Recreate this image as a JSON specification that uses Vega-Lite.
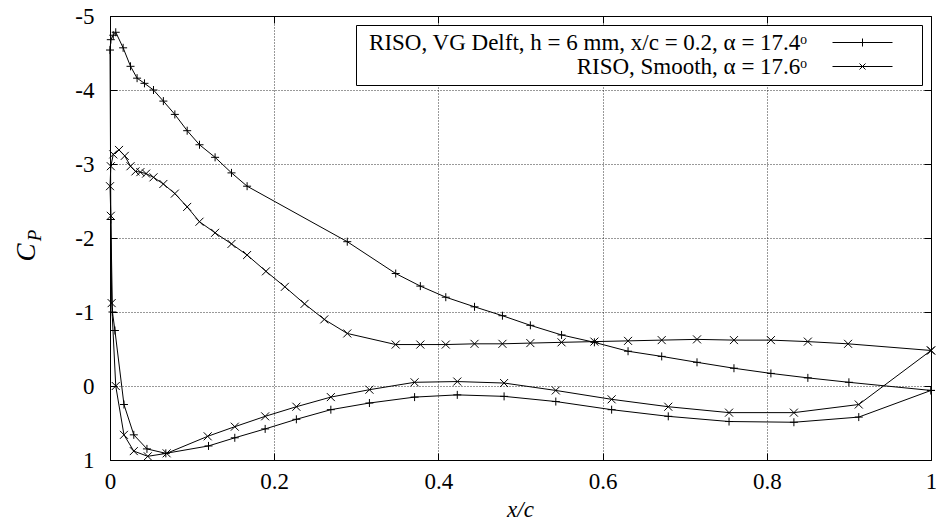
{
  "$schema": "https://vega.github.io/schema/vega-lite/v6.json",
  "width": 821,
  "height": 444,
  "autosize": "none",
  "padding": {"left": 110, "top": 16, "right": 5, "bottom": 69},
  "background": "white",
  "config": {
    "view": {"stroke": "black", "strokeWidth": 1},
    "font": "Liberation Serif",
    "axis": {
      "labelFont": "Liberation Serif",
      "labelFontSize": 23,
      "labelColor": "black",
      "labelFlush": false,
      "labelOverlap": false,
      "domain": false,
      "tickColor": "black",
      "tickSize": -7,
      "tickWidth": 1,
      "gridColor": "black",
      "gridDash": [1, 2],
      "gridOpacity": 0.8,
      "gridWidth": 1,
      "titleFont": "Liberation Serif",
      "titleColor": "black",
      "titleFontWeight": "normal",
      "titleFontStyle": "italic"
    }
  },
  "datasets": {
    "cp": [
      {"s":"vg","i":0,"x":1.0,"cp":0.06},{"s":"vg","i":1,"x":0.9,"cp":-0.05},{"s":"vg","i":2,"x":0.85,"cp":-0.11},{"s":"vg","i":3,"x":0.805,"cp":-0.17},{"s":"vg","i":4,"x":0.76,"cp":-0.24},{"s":"vg","i":5,"x":0.715,"cp":-0.32},{"s":"vg","i":6,"x":0.672,"cp":-0.4},{"s":"vg","i":7,"x":0.631,"cp":-0.47},{"s":"vg","i":8,"x":0.59,"cp":-0.59},{"s":"vg","i":9,"x":0.55,"cp":-0.69},{"s":"vg","i":10,"x":0.512,"cp":-0.82},{"s":"vg","i":11,"x":0.478,"cp":-0.95},{"s":"vg","i":12,"x":0.444,"cp":-1.07},{"s":"vg","i":13,"x":0.409,"cp":-1.2},{"s":"vg","i":14,"x":0.378,"cp":-1.35},{"s":"vg","i":15,"x":0.348,"cp":-1.52},{"s":"vg","i":16,"x":0.289,"cp":-1.95},{"s":"vg","i":17,"x":0.167,"cp":-2.7},{"s":"vg","i":18,"x":0.148,"cp":-2.88},{"s":"vg","i":19,"x":0.128,"cp":-3.09},{"s":"vg","i":20,"x":0.109,"cp":-3.26},{"s":"vg","i":21,"x":0.094,"cp":-3.45},{"s":"vg","i":22,"x":0.079,"cp":-3.67},{"s":"vg","i":23,"x":0.065,"cp":-3.85},{"s":"vg","i":24,"x":0.053,"cp":-4.0},{"s":"vg","i":25,"x":0.042,"cp":-4.09},{"s":"vg","i":26,"x":0.033,"cp":-4.16},{"s":"vg","i":27,"x":0.025,"cp":-4.32},{"s":"vg","i":28,"x":0.016,"cp":-4.57},{"s":"vg","i":29,"x":0.007,"cp":-4.78},{"s":"vg","i":30,"x":0.004,"cp":-4.74},{"s":"vg","i":31,"x":0.001,"cp":-4.68},{"s":"vg","i":32,"x":0.0,"cp":-4.54},{"s":"vg","i":33,"x":0.001,"cp":-2.25},{"s":"vg","i":34,"x":0.003,"cp":-1.0},{"s":"vg","i":35,"x":0.006,"cp":-0.75},{"s":"vg","i":36,"x":0.017,"cp":0.25},{"s":"vg","i":37,"x":0.029,"cp":0.66},{"s":"vg","i":38,"x":0.045,"cp":0.85},{"s":"vg","i":39,"x":0.068,"cp":0.91},{"s":"vg","i":40,"x":0.12,"cp":0.81},{"s":"vg","i":41,"x":0.152,"cp":0.7},{"s":"vg","i":42,"x":0.189,"cp":0.58},{"s":"vg","i":43,"x":0.227,"cp":0.45},{"s":"vg","i":44,"x":0.269,"cp":0.32},{"s":"vg","i":45,"x":0.316,"cp":0.23},{"s":"vg","i":46,"x":0.371,"cp":0.15},{"s":"vg","i":47,"x":0.423,"cp":0.12},{"s":"vg","i":48,"x":0.48,"cp":0.14},{"s":"vg","i":49,"x":0.543,"cp":0.21},{"s":"vg","i":50,"x":0.611,"cp":0.32},{"s":"vg","i":51,"x":0.68,"cp":0.41},{"s":"vg","i":52,"x":0.754,"cp":0.48},{"s":"vg","i":53,"x":0.833,"cp":0.49},{"s":"vg","i":54,"x":0.912,"cp":0.42},{"s":"vg","i":55,"x":1.0,"cp":0.06},
      {"s":"smooth","i":0,"x":1.0,"cp":-0.48},{"s":"smooth","i":1,"x":0.899,"cp":-0.57},{"s":"smooth","i":2,"x":0.85,"cp":-0.6},{"s":"smooth","i":3,"x":0.805,"cp":-0.62},{"s":"smooth","i":4,"x":0.76,"cp":-0.62},{"s":"smooth","i":5,"x":0.715,"cp":-0.63},{"s":"smooth","i":6,"x":0.672,"cp":-0.62},{"s":"smooth","i":7,"x":0.631,"cp":-0.61},{"s":"smooth","i":8,"x":0.59,"cp":-0.6},{"s":"smooth","i":9,"x":0.55,"cp":-0.59},{"s":"smooth","i":10,"x":0.512,"cp":-0.58},{"s":"smooth","i":11,"x":0.478,"cp":-0.57},{"s":"smooth","i":12,"x":0.444,"cp":-0.57},{"s":"smooth","i":13,"x":0.409,"cp":-0.56},{"s":"smooth","i":14,"x":0.378,"cp":-0.56},{"s":"smooth","i":15,"x":0.348,"cp":-0.56},{"s":"smooth","i":16,"x":0.289,"cp":-0.71},{"s":"smooth","i":17,"x":0.261,"cp":-0.9},{"s":"smooth","i":18,"x":0.237,"cp":-1.11},{"s":"smooth","i":19,"x":0.213,"cp":-1.34},{"s":"smooth","i":20,"x":0.19,"cp":-1.55},{"s":"smooth","i":21,"x":0.167,"cp":-1.77},{"s":"smooth","i":22,"x":0.148,"cp":-1.92},{"s":"smooth","i":23,"x":0.128,"cp":-2.07},{"s":"smooth","i":24,"x":0.109,"cp":-2.22},{"s":"smooth","i":25,"x":0.094,"cp":-2.42},{"s":"smooth","i":26,"x":0.079,"cp":-2.6},{"s":"smooth","i":27,"x":0.065,"cp":-2.73},{"s":"smooth","i":28,"x":0.053,"cp":-2.82},{"s":"smooth","i":29,"x":0.044,"cp":-2.87},{"s":"smooth","i":30,"x":0.037,"cp":-2.89},{"s":"smooth","i":31,"x":0.031,"cp":-2.9},{"s":"smooth","i":32,"x":0.025,"cp":-2.97},{"s":"smooth","i":33,"x":0.018,"cp":-3.11},{"s":"smooth","i":34,"x":0.011,"cp":-3.19},{"s":"smooth","i":35,"x":0.004,"cp":-3.13},{"s":"smooth","i":36,"x":0.001,"cp":-2.97},{"s":"smooth","i":37,"x":0.0,"cp":-2.7},{"s":"smooth","i":38,"x":0.001,"cp":-2.3},{"s":"smooth","i":39,"x":0.002,"cp":-1.12},{"s":"smooth","i":40,"x":0.007,"cp":0.0},{"s":"smooth","i":41,"x":0.017,"cp":0.66},{"s":"smooth","i":42,"x":0.029,"cp":0.88},{"s":"smooth","i":43,"x":0.046,"cp":0.95},{"s":"smooth","i":44,"x":0.069,"cp":0.91},{"s":"smooth","i":45,"x":0.119,"cp":0.68},{"s":"smooth","i":46,"x":0.152,"cp":0.55},{"s":"smooth","i":47,"x":0.189,"cp":0.41},{"s":"smooth","i":48,"x":0.227,"cp":0.28},{"s":"smooth","i":49,"x":0.269,"cp":0.15},{"s":"smooth","i":50,"x":0.316,"cp":0.05},{"s":"smooth","i":51,"x":0.371,"cp":-0.05},{"s":"smooth","i":52,"x":0.423,"cp":-0.06},{"s":"smooth","i":53,"x":0.48,"cp":-0.04},{"s":"smooth","i":54,"x":0.543,"cp":0.06},{"s":"smooth","i":55,"x":0.611,"cp":0.18},{"s":"smooth","i":56,"x":0.68,"cp":0.28},{"s":"smooth","i":57,"x":0.754,"cp":0.36},{"s":"smooth","i":58,"x":0.833,"cp":0.36},{"s":"smooth","i":59,"x":0.912,"cp":0.25},{"s":"smooth","i":60,"x":1.0,"cp":-0.48}
    ]
  },
  "data": {"name": "cp"},
  "layer": [
    {
      "mark": {"type": "line", "color": "black", "strokeWidth": 1},
      "encoding": {
        "x": {"field": "x", "type": "quantitative", "scale": {"domain": [0, 1], "nice": false, "zero": false},
          "axis": {"orient": "bottom", "values": [0, 0.2, 0.4, 0.6, 0.8, 1], "format": ".1~f", "grid": true, "labelPadding": 17,
            "title": "x/c", "titleFontSize": 23, "titleX": 410, "titleY": 49, "titleBaseline": "middle", "titleAlign": "center"}},
        "y": {"field": "cp", "type": "quantitative", "scale": {"domain": [-5, 1], "reverse": true, "nice": false, "zero": false},
          "axis": {"orient": "left", "values": [-5, -4, -3, -2, -1, 0, 1], "labelExpr": "'' + datum.value", "grid": true, "labelPadding": 23,
            "title": "C", "titleFontSize": 27, "titleAngle": -90, "titleX": -84, "titleY": 236, "titleBaseline": "middle", "titleAlign": "center"}},
        "detail": {"field": "s"},
        "order": {"field": "i", "type": "quantitative"}
      }
    },
    {
      "mark": {"type": "point", "filled": false, "stroke": "black", "strokeWidth": 1, "size": 64, "opacity": 1},
      "encoding": {
        "x": {"field": "x", "type": "quantitative", "axis": null},
        "y": {"field": "cp", "type": "quantitative", "axis": null},
        "shape": {"field": "s", "type": "nominal",
          "scale": {"domain": ["vg", "smooth"], "range": ["M-1,0H1M0,-1V1", "M-1,-1L1,1M-1,1L1,-1"]},
          "legend": null
        }
      }
    },
    {
      "mark": {"type": "point", "opacity": 0, "filled": false, "stroke": "black"},
      "encoding": {
        "x": {"field": "x", "type": "quantitative",
          "axis": {"orient": "top", "values": [0, 0.2, 0.4, 0.6, 0.8, 1], "labels": false, "grid": false, "title": null}},
        "y": {"field": "cp", "type": "quantitative",
          "axis": {"orient": "right", "values": [-5, -4, -3, -2, -1, 0, 1], "labels": false, "grid": false,
            "title": "P", "titleFontSize": 19, "titleAngle": -90, "titleX": -897, "titleY": 219, "titleBaseline": "middle", "titleAlign": "center"}},
        "shape": {"field": "s", "type": "nominal",
          "scale": {"domain": ["vg", "smooth"], "range": ["M-3,0H3M0,-0.4V0.4M5.1,0", "M-3,0H3M-0.3,-0.3L0.3,0.3M-0.3,0.3L0.3,-0.3M5.1,0"]},
          "legend": {
            "title": null, "orient": "none", "legendX": 246, "legendY": 9,
            "labelExpr": "datum.value == 'vg' ? 'RISO, VG Delft, h = 6 mm, x/c = 0.2, α = 17.4ᵒ' : 'RISO, Smooth, α = 17.6ᵒ'",
            "labelFont": "Liberation Serif", "labelFontSize": 23, "labelColor": "black",
            "labelAlign": "right", "labelOffset": -67, "labelLimit": 0,
            "symbolOffset": 489, "symbolSize": 400, "symbolStrokeWidth": 1, "symbolStrokeColor": "black", "symbolFillColor": "transparent", "symbolOpacity": 1,
            "strokeColor": "black", "fillColor": "white", "padding": 6, "rowPadding": 0, "cornerRadius": 0
          }
        }
      }
    }
  ],
  "resolve": {"axis": {"x": "independent", "y": "independent"}, "scale": {"shape": "independent"}}
}
